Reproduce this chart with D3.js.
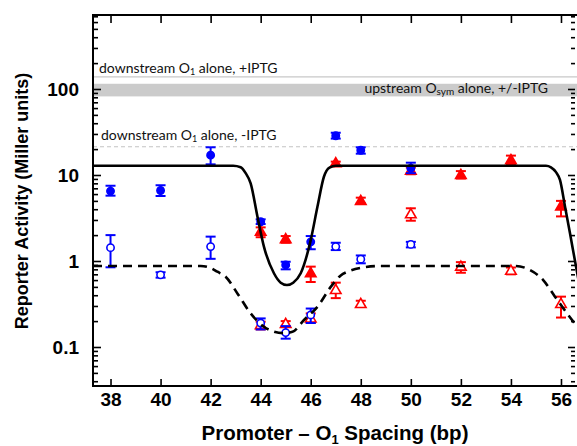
<!DOCTYPE html>
<html><head><meta charset="utf-8">
<script src="https://cdn.jsdelivr.net/npm/d3@7"></script>
<style>
html,body{margin:0;padding:0;background:#fff;}
svg{display:block;}
</style></head>
<body>
<svg id="chart" width="577" height="446"></svg>
<script>
// ---------- data ----------
const xTicks = [38, 40, 42, 44, 46, 48, 50, 52, 54, 56];
const yTicks = [0.1, 1, 10, 100];
const yTickLabels = ["0.1", "1", "10", "100"];

// blue filled circles
const blueFilledX   = [38, 40, 42, 44, 45, 46, 47, 48, 50];
const blueFilledY   = [6.5, 6.6, 17, 2.86, 0.9, 1.67, 28.6, 19.4, 12];
const blueFilledLo  = [5.75, 5.7, 13.3, 2.69, 0.8, 1.37, 26.5, 17.7, 10.5];
const blueFilledHi  = [7.5, 7.6, 21, 3.05, 0.98, 1.95, 31, 21, 13.9];

// blue open circles
const blueOpenX  = [38, 40, 42, 44, 45, 46, 47, 48, 50];
const blueOpenY  = [1.43, 0.69, 1.47, 0.19, 0.147, 0.236, 1.47, 1.05, 1.56];
const blueOpenLo = [0.845, 0.64, 1.06, 0.16, 0.125, 0.19, 1.34, 0.94, 1.44];
const blueOpenHi = [2.0, 0.74, 1.92, 0.215, 0.175, 0.28, 1.63, 1.16, 1.67];

// red filled triangles
const redFilledX  = [44, 45, 46, 47, 48, 50, 52, 54, 56];
const redFilledY  = [2.19, 1.79, 0.72, 13.7, 5.0, 11.2, 10.0, 14.9, 4.3];
const redFilledLo = [1.89, 1.63, 0.57, 12.8, 4.67, 10.2, 9.1, 13.4, 3.3];
const redFilledHi = [2.46, 1.95, 0.86, 14.3, 5.45, 12.2, 11.1, 16.8, 5.0];

// red open triangles
const redOpenX  = [44, 45, 46, 47, 48, 50, 52, 54, 56];
const redOpenY  = [0.18, 0.185, 0.215, 0.46, 0.316, 3.5, 0.86, 0.77, 0.316];
const redOpenLo = [0.16, 0.172, 0.19, 0.37, 0.294, 2.94, 0.73, 0.7, 0.22];
const redOpenHi = [0.197, 0.2, 0.246, 0.56, 0.345, 4.1, 0.97, 0.84, 0.385];

// model curve (solid)
const solidX = [37.3, 42.9, 43.2, 43.4, 43.6, 43.87, 44.13, 44.53, 44.8, 45.05, 45.3, 45.6, 46.0, 46.27, 46.53, 46.75, 47.0, 55.4, 55.6, 55.8, 55.96, 56.16, 56.36, 56.56, 56.7];
const solidY = [12.8, 12.8, 12.3, 10.5, 8.0, 3.3, 1.47, 0.72, 0.56, 0.525, 0.56, 0.72, 1.75, 4.3, 9.6, 12.2, 12.8, 12.8, 12.3, 10.8, 8.75, 4.3, 2.1, 1.0, 0.6];

// model curve (dashed)
const dashX = [37.3, 41.6, 42.0, 42.27, 42.6, 43.07, 43.6, 44.13, 44.5, 44.9, 45.27, 45.73, 46.27, 46.8, 47.2, 47.47, 48.13, 48.73, 54.2, 54.76, 55.29, 55.76, 56.29, 56.6];
const dashY = [0.875, 0.875, 0.83, 0.75, 0.657, 0.42, 0.246, 0.172, 0.152, 0.145, 0.15, 0.206, 0.294, 0.50, 0.68, 0.75, 0.845, 0.875, 0.875, 0.786, 0.6, 0.385, 0.236, 0.18];

// reference levels
const refPlusIPTG = 138;
const refMinusIPTG = 21.3;
const bandLo = 82, bandHi = 115;

// ---------- layout ----------
const svg = d3.select("#chart");
const L = 93, R = 575, T = 15, B = 386;
const x = d3.scaleLinear().domain([37.3, 56.56]).range([L, R]);
const y = d3.scaleLog().domain([0.0352, 725]).range([B, T]);

const blue = "#0000ff", red = "#ff0000";
const labelFont = "Lato, 'Open Sans', sans-serif";
const axisFont = "'Liberation Sans', Arial, Helvetica, sans-serif";

svg.append("defs").append("clipPath").attr("id","clip")
  .append("rect").attr("x", L).attr("y", T).attr("width", 577 - L).attr("height", B - T);

// reference band and lines
svg.append("rect").attr("x", L).attr("width", 577 - L)
  .attr("y", y(bandHi)).attr("height", y(bandLo) - y(bandHi)).attr("fill", "#cbcbcb");
svg.append("line").attr("x1", L).attr("x2", 577).attr("y1", y(refPlusIPTG)).attr("y2", y(refPlusIPTG))
  .attr("stroke", "#c8c8c8").attr("stroke-width", 1.2);
svg.append("line").attr("x1", L).attr("x2", 577).attr("y1", y(refMinusIPTG)).attr("y2", y(refMinusIPTG))
  .attr("stroke", "#c4c4c4").attr("stroke-width", 1.2).attr("stroke-dasharray", "4,3");

// reference labels
function subText(g, parts, attrs){
  const t = g.append("text");
  Object.entries(attrs).forEach(([k,v]) => t.attr(k, v));
  parts.forEach(p => {
    const s = t.append("tspan").text(p.t);
    if (p.sub) s.attr("font-size", p.size).attr("dy", p.dy);
    if (p.back) s.attr("dy", p.back);
  });
  return t;
}
subText(svg, [{t:"downstream O"},{t:"1",sub:true,size:"9px",dy:2},{t:" alone, +IPTG",back:-2}],
  {x: 99, y: 73, "font-family": labelFont, "font-size": "14px", fill: "#111"});
subText(svg, [{t:"downstream O"},{t:"1",sub:true,size:"9px",dy:2},{t:" alone, -IPTG",back:-2}],
  {x: 101, y: 140, "font-family": labelFont, "font-size": "14px", fill: "#111"});
subText(svg, [{t:"upstream O"},{t:"sym",sub:true,size:"10px",dy:2},{t:" alone, +/-IPTG",back:-2}],
  {x: 548, y: 93, "text-anchor": "end", "font-family": labelFont, "font-size": "14px", fill: "#111"});

// ---------- markers ----------
const plot = svg.append("g").attr("clip-path", "url(#clip)");
function errorBars(xs, lo, hi, color){
  const g = plot.append("g").attr("stroke", color).attr("stroke-width", 2).attr("fill", "none");
  xs.forEach((xv, i) => {
    const cx = x(xv);
    g.append("line").attr("x1", cx).attr("x2", cx).attr("y1", y(lo[i])).attr("y2", y(hi[i]));
    g.append("line").attr("x1", cx - 5).attr("x2", cx + 5).attr("y1", y(lo[i])).attr("y2", y(lo[i]));
    g.append("line").attr("x1", cx - 5).attr("x2", cx + 5).attr("y1", y(hi[i])).attr("y2", y(hi[i]));
  });
}
function markers(xs, ys, type, color, filled){
  const sym = d3.symbol().type(type === "tri" ? d3.symbolTriangle : d3.symbolCircle)
    .size(type === "tri" ? 48 : 42);
  plot.append("g").selectAll("path").data(xs).join("path")
    .attr("transform", (d, i) => `translate(${x(d)},${y(ys[i]) + (type === "tri" ? 0.5 : 0)})`)
    .attr("d", sym)
    .attr("fill", filled ? color : "#fff")
    .attr("stroke", color).attr("stroke-width", 1.6);
}
errorBars(redOpenX, redOpenLo, redOpenHi, red);
markers(redOpenX, redOpenY, "tri", red, false);
errorBars(redFilledX, redFilledLo, redFilledHi, red);
markers(redFilledX, redFilledY, "tri", red, true);
errorBars(blueOpenX, blueOpenLo, blueOpenHi, blue);
markers(blueOpenX, blueOpenY, "circ", blue, false);
errorBars(blueFilledX, blueFilledLo, blueFilledHi, blue);
markers(blueFilledX, blueFilledY, "circ", blue, true);

// ---------- curves ----------
const line = d3.line().x(d => x(d[0])).y(d => y(d[1])).curve(d3.curveMonotoneX);
plot.append("path").attr("d", line(d3.zip(solidX, solidY)))
  .attr("fill", "none").attr("stroke", "#000").attr("stroke-width", 2.6);
plot.append("path").attr("d", line(d3.zip(dashX, dashY)))
  .attr("fill", "none").attr("stroke", "#000").attr("stroke-width", 2.6)
  .attr("stroke-dasharray", "9,6");

// ---------- axes ----------
const minor = [];
[0.01, 0.1, 1, 10, 100].forEach(d => { for (let k = 2; k <= 9; k++) { const v = d * k; if (v > 0.0352 && v < 725) minor.push(v); } });

const gl = svg.append("g").attr("transform", `translate(${L},0)`);
gl.call(d3.axisLeft(y).tickValues(yTicks).tickSize(-8).tickPadding(14).tickFormat((d, i) => yTickLabels[i]));
gl.append("g").call(d3.axisLeft(y).tickValues(minor).tickSize(-5).tickFormat(""));

const gr = svg.append("g").attr("transform", `translate(${R},0)`);
gr.call(d3.axisRight(y).tickValues(yTicks).tickSize(-7).tickFormat(""));
gr.append("g").call(d3.axisRight(y).tickValues(minor).tickSize(-4).tickFormat(""));

const gb = svg.append("g").attr("transform", `translate(0,${B})`);
gb.call(d3.axisBottom(x).tickValues(xTicks).tickSize(-7).tickPadding(7).tickFormat(d3.format("d")));
const gt = svg.append("g").attr("transform", `translate(0,${T})`);
gt.call(d3.axisTop(x).tickValues(xTicks).tickSize(-8).tickFormat(""));

svg.selectAll(".domain").remove();
svg.selectAll(".tick line").attr("stroke", "#000").attr("stroke-width", 1.6);
svg.selectAll(".tick text").attr("font-family", axisFont).attr("font-weight", "bold")
  .attr("font-size", "19px").attr("fill", "#000");

// frame lines
const frame = svg.append("g").attr("stroke", "#000").attr("stroke-width", 2);
frame.append("line").attr("x1", L).attr("x2", L).attr("y1", T - 1).attr("y2", B + 1);
frame.append("line").attr("x1", L).attr("x2", 577).attr("y1", T).attr("y2", T);
frame.append("line").attr("x1", L).attr("x2", 577).attr("y1", B).attr("y2", B);

// axis titles
const xt = svg.append("text").attr("x", 335).attr("y", 440).attr("text-anchor", "middle")
  .attr("font-family", axisFont).attr("font-weight", "bold").attr("font-size", "20.5px");
xt.append("tspan").text("Promoter \u2013 O");
xt.append("tspan").text("1").attr("font-size", "13px").attr("dy", 4);
xt.append("tspan").text(" Spacing (bp)").attr("dy", -4);

svg.append("text").attr("transform", "translate(28,201) rotate(-90)").attr("text-anchor", "middle")
  .attr("font-family", axisFont).attr("font-weight", "bold").attr("font-size", "18px")
  .text("Reporter Activity (Miller units)");
</script>
</body></html>
